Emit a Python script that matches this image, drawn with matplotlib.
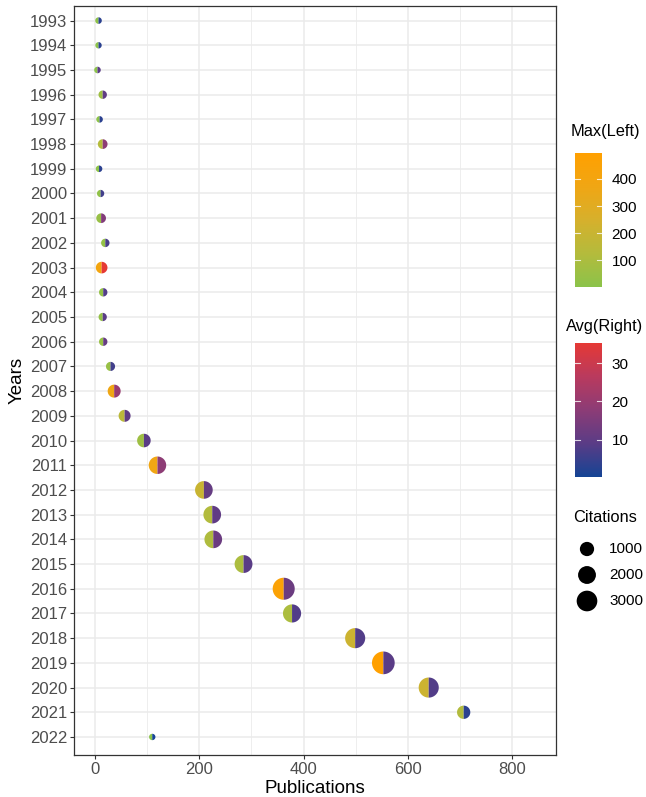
import numpy as np
import matplotlib
matplotlib.use('Agg')
import matplotlib.pyplot as plt
from matplotlib.path import Path
from matplotlib.colors import LinearSegmentedColormap, Normalize

plt.rcParams['font.family'] = ['Liberation Sans', 'DejaVu Sans']

# Data
years = list(range(1993, 2023))
publications = [7, 7, 5, 15, 9, 15, 8, 11, 12, 20,
                13, 16, 15, 16, 30, 37, 57, 94, 120, 209,
                225, 227, 285, 362, 378, 499, 553, 640, 707, 110]
citations = [15, 10, 15, 110, 15, 230, 15, 40, 230, 110,
             490, 110, 100, 110, 170, 730, 550, 850, 1870, 1930,
             1930, 1930, 1990, 3570, 2090, 2780, 3870, 2780, 790, 10]
max_left = [10, 5, 5, 60, 8, 130, 8, 20, 40, 30,
            400, 30, 30, 40, 40, 370, 150, 60, 380, 200,
            120, 110, 100, 460, 100, 210, 496, 210, 120, 1]
avg_right = [3, 3, 9, 10, 3, 18, 3, 6, 16, 7,
             35.3, 8, 9, 11, 6, 20, 10, 9, 18, 11,
             10, 12, 9, 12, 8, 8, 9, 8, 3, 0.2]
size_breaks = [1000, 2000, 3000]


def point_size(c):
    # diameter in pixels (area scale), converted to points^2 for scatter
    d_px = 5.5 + 17.5 * np.sqrt(np.asarray(c, dtype=float) / 4000)
    return (d_px * 0.72) ** 2


def half_circle(side):
    if side == 'left':
        t = np.linspace(np.pi / 2, 3 * np.pi / 2, 60)
    else:
        t = np.linspace(-np.pi / 2, np.pi / 2, 60)
    verts = np.column_stack([np.cos(t), np.sin(t)])
    verts = np.vstack([verts, verts[:1]])
    codes = [Path.MOVETO] + [Path.LINETO] * (len(verts) - 2) + [Path.CLOSEPOLY]
    return Path(verts, codes)


cmap_max = LinearSegmentedColormap.from_list(
    'maxl', ['#8bc34a', '#b4bb3c', '#d6b02c', '#f0a614', '#ffa000'])
cmap_avg = LinearSegmentedColormap.from_list(
    'avgr', ['#154494', '#5a3c86', '#8c3c76', '#b93a5e', '#e53935'])

W, H = 646, 797
fig = plt.figure(figsize=(W / 100, H / 100), dpi=100)
ax = fig.add_axes([74 / W, 1 - 755 / H, (556 - 74) / W, (755 - 6) / H])

sizes = point_size(citations)
norm_max = Normalize(min(max_left), max(max_left))
norm_avg = Normalize(min(avg_right), max(avg_right))
sc_max = ax.scatter(publications, years, s=sizes, c=max_left, cmap=cmap_max,
                    norm=norm_max, marker=half_circle('left'), linewidths=0, zorder=3)
sc_avg = ax.scatter(publications, years, s=sizes, c=avg_right, cmap=cmap_avg,
                    norm=norm_avg, marker=half_circle('right'), linewidths=0, zorder=3)

ax.set_xlim(-40, 884)
ax.set_ylim(2022 + 0.73, 1993 - 0.59)
ax.set_xticks([0, 200, 400, 600, 800])
ax.set_xticks([100, 300, 500, 700], minor=True)
ax.set_yticks(years)
ax.set_yticklabels([str(y) for y in years])
ax.grid(which='major', color='#ebebeb', linewidth=1.1, zorder=0)
ax.grid(which='minor', axis='x', color='#ebebeb', linewidth=0.6, zorder=0)
ax.set_axisbelow(True)
ax.tick_params(which='major', length=3, width=0.8, color='#333333',
               labelsize=12, labelcolor='#4d4d4d', pad=2)
ax.tick_params(which='minor', length=0)
for sp in ax.spines.values():
    sp.set_color('#333333')
    sp.set_linewidth(0.9)
ax.set_xlabel('Publications', fontsize=13.5, labelpad=2)
ax.set_ylabel('Years', fontsize=13.5, labelpad=3)

# overlay in pixel units for legend layout
lax = fig.add_axes([0, 0, 1, 1], zorder=-1)
lax.set_xlim(0, W)
lax.set_ylim(H, 0)
lax.axis('off')
legend_cx = 605


# colour bars
def add_bar(sc, top, bottom, title, title_y, ticks):
    cax = fig.add_axes([575 / W, 1 - bottom / H, 27 / W, (bottom - top) / H])
    cb = fig.colorbar(sc, cax=cax, ticks=ticks)
    cb.outline.set_visible(False)
    cax.tick_params(length=0, labelsize=11, pad=7)
    for t in ticks:
        cax.axhline(t, xmin=0, xmax=0.2, color='white', linewidth=0.8, alpha=0.8)
        cax.axhline(t, xmin=0.8, xmax=1, color='white', linewidth=0.8, alpha=0.8)
    lax.text(legend_cx, title_y, title, fontsize=11.8, ha='center', va='center')
    return cb


add_bar(sc_max, 153, 287, 'Max(Left)', 131, [100, 200, 300, 400])
add_bar(sc_avg, 343, 477, 'Avg(Right)', 326, [10, 20, 30])

# size legend
lax.text(legend_cx, 518, 'Citations', fontsize=11.8, ha='center', va='center')
key_y = [549, 575, 601]
lax.scatter([587] * len(size_breaks), key_y, s=point_size(size_breaks),
            color='black', linewidths=0)
for yk, c in zip(key_y, size_breaks):
    lax.text(609, yk, str(c), fontsize=11, ha='left', va='center')

fig.savefig('out.png', dpi=100)
